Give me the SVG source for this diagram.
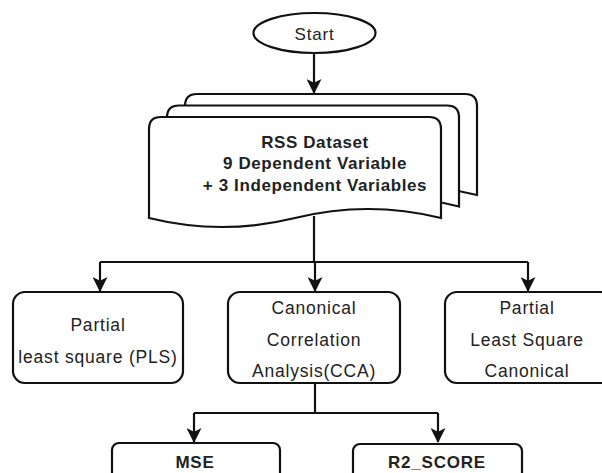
<svg xmlns="http://www.w3.org/2000/svg" width="602" height="473" viewBox="0 0 602 473">
<defs>
<style>
.shape{fill:#fff;stroke:#111;stroke-width:2.2}
.edge{fill:none;stroke:#111;stroke-width:2.2}
.t{font-family:"Liberation Sans",Arial,sans-serif;fill:#222;text-anchor:middle}
.box{font-size:17.5px;letter-spacing:0.8px}
.doc{font-size:17px;font-weight:bold;letter-spacing:0.6px}
.res{font-size:17px;font-weight:bold;letter-spacing:0.8px}
</style>
<marker id="arr" viewBox="0 0 16 16" refX="15" refY="8" markerWidth="16" markerHeight="15" markerUnits="userSpaceOnUse" orient="auto">
<path d="M0,0 L16,8 L0,16 L4,8 z" fill="#111"/>
</marker>
<path id="docshape" d="M149,129 Q149,117 161,117 L429,117 Q441,117 441,129 L441,218 Q368,200 295,218 Q222,236 149,218 Z"/>
</defs>
<rect width="602" height="473" fill="#fff"/>
<g id="connectors">
<path class="edge" d="M314,53 L314,93" marker-end="url(#arr)"/>
<path class="edge" d="M314,216 L314,262"/>
<path class="edge" d="M100,262 L528,262"/>
<path class="edge" d="M100,262 L100,291" marker-end="url(#arr)"/>
<path class="edge" d="M315,262 L315,291" marker-end="url(#arr)"/>
<path class="edge" d="M528,262 L528,291" marker-end="url(#arr)"/>
<path class="edge" d="M315,383 L315,413"/>
<path class="edge" d="M194,413 L438,413"/>
<path class="edge" d="M194,413 L194,442" marker-end="url(#arr)"/>
<path class="edge" d="M438,413 L438,442" marker-end="url(#arr)"/>
</g>
<g id="start">
<ellipse class="shape" cx="314.5" cy="33" rx="61" ry="20"/>
<text class="t" x="314.5" y="40" style="font-size:17px;letter-spacing:0.8px">Start</text>
</g>
<g id="dataset">
<use href="#docshape" class="shape" transform="translate(36,-23)"/>
<use href="#docshape" class="shape" transform="translate(18,-11.5)"/>
<use href="#docshape" class="shape"/>
<text class="t doc" x="315" y="148">RSS Dataset</text>
<text class="t doc" x="315" y="169">9 Dependent Variable</text>
<text class="t doc" x="315" y="191">+ 3 Independent Variables</text>
</g>
<g id="pls">
<rect class="shape" x="13" y="292" width="170" height="91" rx="12"/>
<text class="t box" x="98" y="331">Partial</text>
<text class="t box" x="98" y="363">least square (PLS)</text>
</g>
<g id="cca">
<rect class="shape" x="228" y="292" width="172" height="91" rx="12"/>
<text class="t box" x="314" y="314">Canonical</text>
<text class="t box" x="314" y="346">Correlation</text>
<text class="t box" x="314" y="377">Analysis(CCA)</text>
</g>
<g id="plsc">
<rect class="shape" x="445" y="292" width="168" height="91" rx="12"/>
<text class="t box" x="527" y="314">Partial</text>
<text class="t box" x="527" y="346">Least Square</text>
<text class="t box" x="527" y="377">Canonical</text>
</g>
<g id="mse">
<rect class="shape" x="112" y="443" width="168" height="50" rx="7"/>
<text class="t res" x="195" y="468">MSE</text>
</g>
<g id="r2">
<rect class="shape" x="353" y="444" width="169" height="50" rx="7"/>
<text class="t res" x="437" y="468">R2_SCORE</text>
</g>
</svg>
